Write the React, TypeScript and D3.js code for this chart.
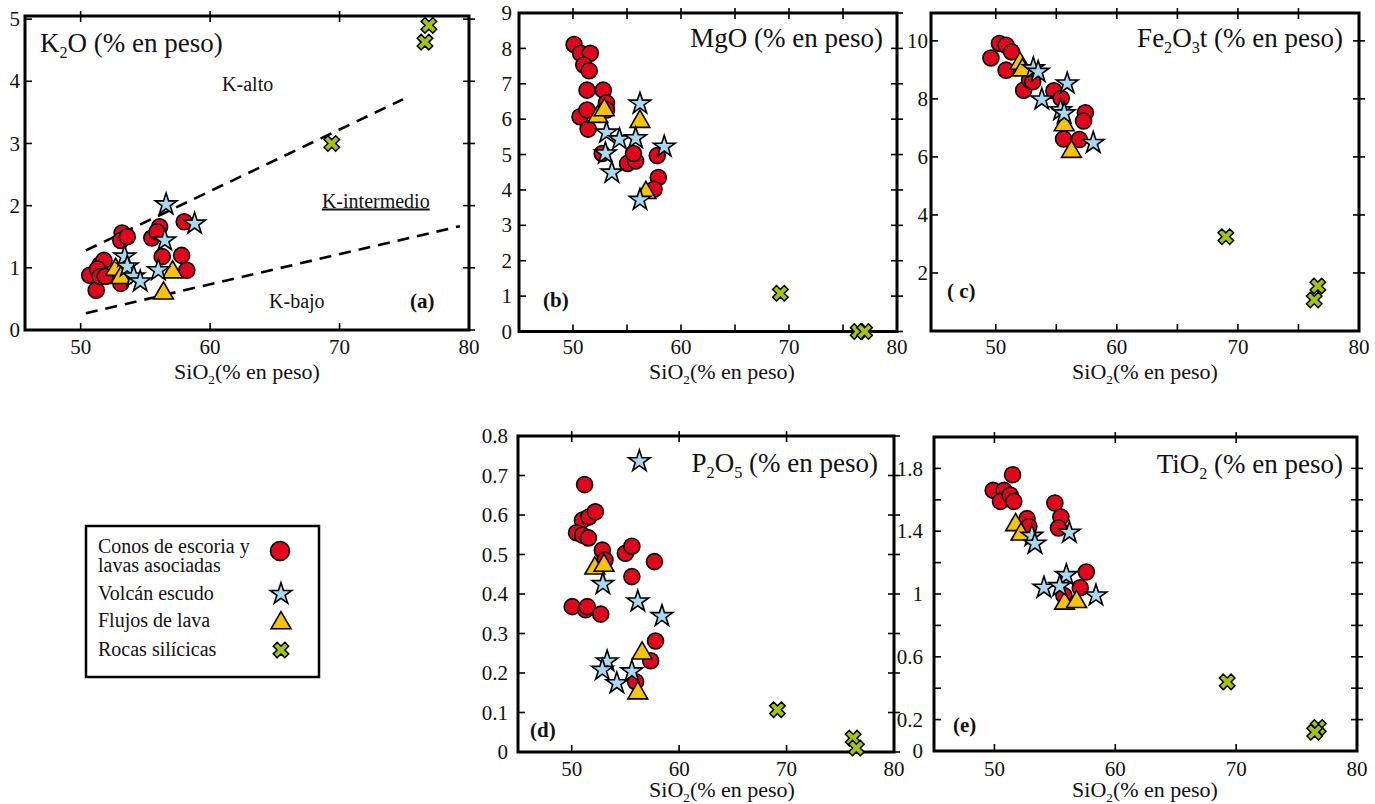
'use client';

import { useRef, useEffect } from 'react';
import * as d3 from 'd3';

type Pt = [number, number];

// [SiO2, oxide] pairs, one array per panel and group

// (a) K2O
const conosK2O: Pt[] = [
  [50.7, 0.88], [51.2, 0.64], [51.5, 1.05], [51.8, 1.12], [51.3, 0.98], [51.5, 0.86],
  [51.9, 0.86], [53.2, 1.56], [53.1, 1.44], [53.6, 1.5], [53.1, 0.75], [55.5, 1.48],
  [56.1, 1.66], [55.9, 1.58], [56.3, 1.18], [58.0, 1.74], [57.8, 1.2], [58.2, 0.96],
];
const escudoK2O: Pt[] = [
  [56.6, 2.02], [58.8, 1.71], [56.5, 1.44], [53.4, 1.18], [53.6, 1.02], [54.1, 0.86],
  [54.6, 0.78], [56.0, 0.96],
];
const flujosK2O: Pt[] = [[52.7, 0.97], [53.1, 0.84], [57.1, 0.93], [56.4, 0.59]];
const rocasK2O: Pt[] = [[69.4, 3.0], [76.9, 4.9], [76.6, 4.63]];
// K-series boundary lines
const limiteAlto: Pt[] = [[50.4, 1.28], [74.9, 3.71]];
const limiteBajo: Pt[] = [[50.4, 0.27], [79.3, 1.67]];

// (b) MgO
const conosMgO: Pt[] = [
  [50.1, 8.11], [50.7, 7.86], [51.6, 7.86], [51.0, 7.53], [51.5, 7.37], [51.3, 6.82],
  [52.8, 6.82], [53.1, 6.46], [53.1, 6.26], [50.65, 6.07], [51.3, 6.26], [51.4, 5.72],
  [52.7, 5.03], [55.05, 4.75], [55.8, 4.82], [55.6, 5.03], [57.8, 4.97], [57.9, 4.35],
  [57.5, 4.02],
];
const escudoMgO: Pt[] = [
  [56.2, 6.44], [53.1, 5.62], [54.3, 5.43], [55.8, 5.46], [58.45, 5.22], [53.0, 5.03],
  [53.6, 4.49], [56.2, 3.72],
];
const flujosMgO: Pt[] = [[52.3, 6.07], [52.9, 6.26], [56.2, 5.93], [56.75, 3.92]];
const rocasMgO: Pt[] = [[69.2, 1.08], [76.4, 0.0], [77.0, 0.0]];

// (c) Fe2O3t
const conosFe: Pt[] = [
  [49.6, 9.41], [50.3, 9.91], [50.85, 9.85], [51.3, 9.62], [50.85, 8.99], [52.3, 8.3],
  [52.8, 8.65], [53.05, 8.59], [54.8, 8.28], [55.4, 8.02], [57.4, 7.52], [57.25, 7.24],
  [55.6, 6.62], [56.9, 6.6],
];
const escudoFe: Pt[] = [
  [53.1, 9.05], [53.5, 8.93], [55.9, 8.53], [53.8, 7.98], [55.35, 7.61], [55.65, 7.5],
  [58.05, 6.48],
];
const flujosFe: Pt[] = [[52.0, 9.22], [52.2, 8.99], [55.65, 7.1], [56.25, 6.18]];
const rocasFe: Pt[] = [[69.0, 3.25], [76.6, 1.55], [76.3, 1.07]];

// (d) P2O5
const conosP: Pt[] = [
  [51.2, 0.677], [51.0, 0.587], [51.6, 0.595], [52.2, 0.608], [50.45, 0.555], [51.0, 0.549],
  [51.55, 0.542], [52.85, 0.511], [53.1, 0.486], [55.0, 0.503], [55.6, 0.521], [55.6, 0.444],
  [57.7, 0.482], [50.05, 0.368], [51.3, 0.36], [51.45, 0.368], [52.7, 0.349], [57.8, 0.281],
  [57.35, 0.231], [55.95, 0.178],
];
const escudoP: Pt[] = [
  [56.3, 0.736], [52.9, 0.425], [56.15, 0.381], [58.4, 0.344], [53.3, 0.229], [52.85, 0.208],
  [54.2, 0.174], [55.6, 0.204],
];
const flujosP: Pt[] = [[52.15, 0.465], [53.0, 0.472], [56.55, 0.25], [56.15, 0.149]];
const rocasP: Pt[] = [[69.15, 0.107], [76.2, 0.035], [76.5, 0.01]];

// (e) TiO2
const conosTi: Pt[] = [
  [51.5, 1.76], [49.9, 1.66], [50.8, 1.66], [50.5, 1.59], [51.3, 1.63], [51.6, 1.59],
  [55.0, 1.58], [55.5, 1.49], [55.3, 1.42], [52.7, 1.48], [52.85, 1.43], [57.6, 1.14],
  [57.1, 1.04], [55.75, 0.99],
];
const escudoTi: Pt[] = [
  [53.1, 1.37], [53.35, 1.32], [56.2, 1.39], [55.95, 1.12], [54.1, 1.04], [55.4, 1.05],
  [58.4, 0.99],
];
const flujosTi: Pt[] = [[51.75, 1.44], [52.2, 1.38], [55.8, 0.94], [56.8, 0.95]];
const rocasTi: Pt[] = [[69.26, 0.44], [76.8, 0.15], [76.5, 0.12]];

// tick values and labels
const xLabels = [50, 60, 70, 80];
const xTicks10 = [50, 60, 70];
const xTicks5 = [50, 55, 60, 65, 70, 75];
const yLabelsK2O = [0, 1, 2, 3, 4, 5];
const yLabelsMgO = [0, 1, 2, 3, 4, 5, 6, 7, 8, 9];
const yLabelsFe = [2, 4, 6, 8, 10];
const yLabelsP = [0, 0.1, 0.2, 0.3, 0.4, 0.5, 0.6, 0.7, 0.8];
const yTicksTi = [0.2, 0.4, 0.6, 0.8, 1, 1.2, 1.4, 1.6, 1.8];
const yLabelsTi = [0, 0.2, 0.6, 1, 1.4, 1.8];

const legendLabels = [
  ['Conos de escoria y', 'lavas asociadas'],
  ['Volcán escudo'],
  ['Flujos de lava'],
  ['Rocas silícicas'],
];

const COLORS = {
  conos: '#e3051b',
  escudo: '#a8d9f3',
  flujos: '#f8c300',
  rocas: '#a6c40c',
};
const FONT = "'Liberation Serif', 'Times New Roman', serif";

export default function App() {
  const svgRef = useRef<SVGSVGElement>(null);

  useEffect(() => {
    if (!svgRef.current) return;
    const svg = d3.select(svgRef.current);
    svg.selectAll('*').remove();

    const panels = [
      {
        box: [25, 469, 16, 330], xDom: [45.7, 80], yDom: [0, 5.05],
        xTicks: xTicks10, yTicks: yLabelsK2O, yLabels: yLabelsK2O, yLabelEdge: 20,
        title: [['K', false], ['2', true], ['O (% en peso)', false]],
        titleX: 40, titleY: 52, anchor: 'start',
        tag: '(a)', tagX: 410, tagY: 308, axisX: 247, axisY: 379, xLabelY: 354,
        conos: conosK2O, escudo: escudoK2O, flujos: flujosK2O, rocas: rocasK2O, k: true,
      },
      {
        box: [519, 897, 13, 331.5], xDom: [45, 80], yDom: [0, 9],
        xTicks: xTicks5, yTicks: yLabelsMgO, yLabels: yLabelsMgO, yLabelEdge: 512,
        title: [['MgO (% en peso)', false]],
        titleX: 883, titleY: 47, anchor: 'end',
        tag: '(b)', tagX: 543, tagY: 307, axisX: 722, axisY: 379, xLabelY: 354,
        conos: conosMgO, escudo: escudoMgO, flujos: flujosMgO, rocas: rocasMgO, k: false,
      },
      {
        box: [931, 1359, 13, 331], xDom: [44.65, 80], yDom: [0, 10.96],
        xTicks: xTicks5, yTicks: yLabelsFe, yLabels: yLabelsFe, yLabelEdge: 928,
        title: [['Fe', false], ['2', true], ['O', false], ['3', true], ['t (% en peso)', false]],
        titleX: 1343, titleY: 47, anchor: 'end',
        tag: '( c)', tagX: 947, tagY: 298, axisX: 1145, axisY: 379, xLabelY: 354,
        conos: conosFe, escudo: escudoFe, flujos: flujosFe, rocas: rocasFe, k: false,
      },
      {
        box: [518, 894, 436, 752], xDom: [45, 80], yDom: [0, 0.8],
        xTicks: xTicks10, yTicks: yLabelsP, yLabels: yLabelsP, yLabelEdge: 508,
        title: [['P', false], ['2', true], ['O', false], ['5', true], [' (% en peso)', false]],
        titleX: 878, titleY: 472, anchor: 'end',
        tag: '(d)', tagX: 530, tagY: 737, axisX: 722, axisY: 797, xLabelY: 776,
        conos: conosP, escudo: escudoP, flujos: flujosP, rocas: rocasP, k: false,
      },
      {
        box: [934, 1357, 437, 751], xDom: [45, 80], yDom: [0, 2],
        xTicks: xTicks10, yTicks: yTicksTi, yLabels: yLabelsTi, yLabelEdge: 923,
        title: [['TiO', false], ['2', true], [' (% en peso)', false]],
        titleX: 1343, titleY: 473, anchor: 'end',
        tag: '(e)', tagX: 953, tagY: 732, axisX: 1145, axisY: 797, xLabelY: 776,
        conos: conosTi, escudo: escudoTi, flujos: flujosTi, rocas: rocasTi, k: false,
      },
    ];

    const triangle = d3.symbol(d3.symbolTriangle, 170)();
    const star = d3.symbol(d3.symbolStar, 145)();
    const cross = d3.symbol(d3.symbolCross, 150)();

    // text with subscript runs
    const richText = (g: any, parts: any[], x: number, y: number, size: number, anchor: string) => {
      const t = g.append('text')
        .attr('x', x).attr('y', y)
        .attr('font-family', FONT).attr('font-size', size)
        .attr('text-anchor', anchor).attr('fill', '#111');
      let shifted = false;
      parts.forEach(([s, sub]) => {
        const ts = t.append('tspan').text(s);
        if (sub && !shifted) { ts.attr('dy', size * 0.22).attr('font-size', size * 0.6); shifted = true; }
        else if (sub) { ts.attr('font-size', size * 0.6); }
        else if (shifted) { ts.attr('dy', -size * 0.22); shifted = false; }
      });
    };

    const drawMarkers = (g: any, x: any, y: any, p: any) => {
      g.selectAll(null).data(p.conos).enter().append('circle')
        .attr('cx', (d: Pt) => x(d[0])).attr('cy', (d: Pt) => y(d[1])).attr('r', 8)
        .attr('fill', COLORS.conos).attr('stroke', '#000').attr('stroke-width', 1.6);
      g.selectAll(null).data(p.flujos).enter().append('path')
        .attr('d', triangle)
        .attr('transform', (d: Pt) => `translate(${x(d[0])},${y(d[1])})`)
        .attr('fill', COLORS.flujos).attr('stroke', '#000').attr('stroke-width', 1.6);
      g.selectAll(null).data(p.escudo).enter().append('path')
        .attr('d', star)
        .attr('transform', (d: Pt) => `translate(${x(d[0])},${y(d[1])})`)
        .attr('fill', COLORS.escudo).attr('stroke', '#000').attr('stroke-width', 1.6);
      g.selectAll(null).data(p.rocas).enter().append('path')
        .attr('d', cross)
        .attr('transform', (d: Pt) => `translate(${x(d[0])},${y(d[1])}) rotate(45)`)
        .attr('fill', COLORS.rocas).attr('stroke', '#000').attr('stroke-width', 1.5);
    };

    panels.forEach((p) => {
      const [x0, x1, y0, y1] = p.box;
      const x = d3.scaleLinear().domain(p.xDom).range([x0, x1]);
      const y = d3.scaleLinear().domain(p.yDom).range([y1, y0]);
      const g = svg.append('g');

      // ticks: left/bottom inside, top/right across the frame
      p.xTicks.forEach((v: number) => {
        g.append('line').attr('x1', x(v)).attr('x2', x(v)).attr('y1', y0 - 5).attr('y2', y0 + 6)
          .attr('stroke', '#000').attr('stroke-width', 1.6);
        g.append('line').attr('x1', x(v)).attr('x2', x(v)).attr('y1', y1 - 7).attr('y2', y1)
          .attr('stroke', '#000').attr('stroke-width', 1.6);
      });
      p.yTicks.forEach((v: number) => {
        g.append('line').attr('x1', x0).attr('x2', x0 + 7).attr('y1', y(v)).attr('y2', y(v))
          .attr('stroke', '#000').attr('stroke-width', 1.6);
        g.append('line').attr('x1', x1 - 6).attr('x2', x1 + 6).attr('y1', y(v)).attr('y2', y(v))
          .attr('stroke', '#000').attr('stroke-width', 1.6);
      });

      g.append('rect')
        .attr('x', x0).attr('y', y0).attr('width', x1 - x0).attr('height', y1 - y0)
        .attr('fill', 'none').attr('stroke', '#000').attr('stroke-width', 3);

      // tick labels
      g.selectAll(null).data(xLabels).enter().append('text')
        .attr('x', (d: number) => x(d)).attr('y', p.xLabelY)
        .attr('text-anchor', 'middle').attr('font-family', FONT).attr('font-size', 21)
        .attr('fill', '#111').text((d: number) => String(d));
      g.selectAll(null).data(p.yLabels).enter().append('text')
        .attr('x', p.yLabelEdge).attr('y', (d: number) => y(d)).attr('dy', '0.34em')
        .attr('text-anchor', 'end').attr('font-family', FONT).attr('font-size', 21)
        .attr('fill', '#111').text((d: number) => String(d));

      richText(g, [['SiO', false], ['2', true], ['(% en peso)', false]], p.axisX, p.axisY, 22, 'middle');
      richText(g, p.title, p.titleX, p.titleY, 27, p.anchor);

      g.append('text').attr('x', p.tagX).attr('y', p.tagY)
        .attr('font-family', FONT).attr('font-size', 21).attr('font-weight', 'bold')
        .attr('fill', '#111').text(p.tag);

      if (p.k) {
        const line = d3.line<Pt>().x((d) => x(d[0])).y((d) => y(d[1]));
        [limiteAlto, limiteBajo].forEach((l) => {
          g.append('path').attr('d', line(l)).attr('fill', 'none')
            .attr('stroke', '#000').attr('stroke-width', 2.6).attr('stroke-dasharray', '12,8');
        });
        const lab = (s: string, vx: number, vy: number, under = false) =>
          g.append('text').attr('x', x(vx)).attr('y', y(vy)).attr('text-anchor', 'middle')
            .attr('font-family', FONT).attr('font-size', 20).attr('fill', '#111')
            .attr('text-decoration', under ? 'underline' : 'none').text(s);
        lab('K-alto', 62.9, 3.84);
        lab('K-intermedio', 72.8, 1.97, true);
        lab('K-bajo', 66.7, 0.35);
      }

      drawMarkers(g, x, y, p);
    });

    // legend
    const lg = svg.append('g');
    lg.append('rect').attr('x', 86).attr('y', 526).attr('width', 233).attr('height', 151)
      .attr('fill', '#fff').attr('stroke', '#000').attr('stroke-width', 2.5);
    const rows = [553, 600, 627, 656];
    const symY = [551, 594, 623, 650];
    legendLabels.forEach((lines, i) => {
      lines.forEach((s, j) => {
        lg.append('text').attr('x', 98).attr('y', rows[i] + j * 19)
          .attr('font-family', FONT).attr('font-size', 20).attr('fill', '#111').text(s);
      });
    });
    lg.append('circle').attr('cx', 280).attr('cy', symY[0]).attr('r', 9.5)
      .attr('fill', COLORS.conos).attr('stroke', '#000').attr('stroke-width', 1.6);
    lg.append('path').attr('d', star).attr('transform', `translate(281,${symY[1]})`)
      .attr('fill', COLORS.escudo).attr('stroke', '#000').attr('stroke-width', 1.6);
    lg.append('path').attr('d', triangle).attr('transform', `translate(281,${symY[2]})`)
      .attr('fill', COLORS.flujos).attr('stroke', '#000').attr('stroke-width', 1.6);
    lg.append('path').attr('d', cross).attr('transform', `translate(281,${symY[3]}) rotate(45)`)
      .attr('fill', COLORS.rocas).attr('stroke', '#000').attr('stroke-width', 1.5);
  }, []);

  return (
    <svg
      ref={svgRef}
      width="1375"
      height="804"
      viewBox="0 0 1375 804"
      style={{ position: 'absolute', left: 0, top: 0, background: '#fff' }}
    />
  );
}
